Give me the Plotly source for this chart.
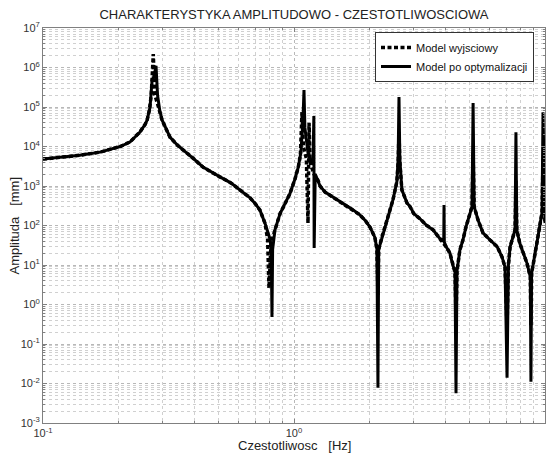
import plotly.graph_objects as go

# ---- data ----
# Model po optymalizacji (solid)
freq_opt = [0.100, 0.120, 0.140, 0.169, 0.185, 0.203, 0.222, 0.243, 0.255, 0.260, 0.267, 0.272,
            0.277, 0.282, 0.286, 0.292, 0.298, 0.310, 0.321, 0.345, 0.375, 0.400, 0.434, 0.470,
            0.507, 0.560, 0.610, 0.668, 0.700, 0.732, 0.766, 0.788, 0.805, 0.812,
            0.817, 0.822, 0.840, 0.880, 0.920, 0.964, 1.009, 1.040, 1.065, 1.085, 1.096, 1.105, 1.140,
            1.190, 1.200, 1.203, 1.215, 1.246, 1.270, 1.330, 1.430, 1.570, 1.700, 1.830, 1.930,
            2.010, 2.100, 2.140, 2.160, 2.175, 2.240, 2.350, 2.480, 2.570, 2.600, 2.620, 2.640,
            2.690, 2.820, 2.900, 3.000, 3.170, 3.380, 3.580, 3.820, 3.950, 3.960, 3.970, 4.050,
            4.180, 4.260, 4.380, 4.420, 4.460, 4.580, 4.710, 4.850, 5.020, 5.120, 5.170, 5.220,
            5.410, 5.660, 6.040, 6.450, 6.740, 6.930, 7.060, 7.150, 7.260, 7.460, 7.600, 7.660,
            7.720, 7.930, 8.170, 8.480, 8.740, 8.790, 8.840, 9.100, 9.370, 9.600, 9.730, 9.820,
            9.920, 10.00]
amp_opt = [4.8e3, 5.4e3, 6.0e3, 7.2e3, 8.3e3, 1.0e4, 1.3e4, 2.3e4, 3.6e4, 4.7e4, 1.0e5, 4.8e5,
           6.0e5, 1.1e6, 2.0e5, 8.0e4, 4.7e4, 2.7e4, 1.7e4, 1.05e4, 6.9e3, 4.8e3, 3.0e3, 2.2e3,
           1.7e3, 1.2e3, 800, 500, 360, 245, 115, 65, 43, 20,
           0.48, 25, 78, 200, 350, 650, 1.5e3, 3.0e3, 7.0e3, 4.0e4, 2.7e5, 3.0e4, 6.0e3,
           3.5e3, 5.9e4, 27, 2.0e3, 1.4e3, 1.0e3, 700, 520, 370, 260, 186, 130,
           90, 50, 25, 0.0078, 25, 51, 138, 450, 1.3e3, 5.0e3, 1.8e5, 5.0e3,
           800, 370, 300, 200, 150, 100, 78, 46, 40, 330, 38, 28,
           20, 12, 6.6, 0.0057, 7, 24, 43, 95, 210, 300, 1.26e5, 300,
           138, 65, 43, 29, 16, 8.9, 0.014, 10, 29, 51, 78, 2.3e4,
           78, 36, 20, 11, 5, 0.011, 6, 20, 51, 130, 210, 7.4e4,
           300, 115]

# Model wyjsciowy (dashed)
freq_org = [0.100, 0.120, 0.140, 0.169, 0.185, 0.203, 0.222, 0.243, 0.255, 0.260, 0.265, 0.270,
            0.275, 0.279, 0.286, 0.292, 0.298, 0.310, 0.321, 0.345, 0.375, 0.400, 0.434, 0.470,
            0.507, 0.560, 0.610, 0.668, 0.700, 0.732, 0.766, 0.785,
            0.795, 0.810, 0.840, 0.880, 0.920, 0.964, 1.009, 1.040, 1.060, 1.076, 1.090, 1.120, 1.137,
            1.148, 1.160, 1.200, 1.246, 1.270, 1.330, 1.430, 1.570, 1.700, 1.830, 1.930, 2.010,
            2.100, 2.140, 2.160, 2.175, 2.240, 2.350, 2.480, 2.570, 2.600, 2.620, 2.640, 2.690,
            2.820, 2.900, 3.000, 3.170, 3.380, 3.580, 3.820, 4.050, 4.180, 4.260, 4.380, 4.420,
            4.460, 4.580, 4.710, 4.850, 5.020, 5.120, 5.170, 5.220, 5.410, 5.660, 6.040, 6.450,
            6.740, 6.930, 7.060, 7.150, 7.260, 7.460, 7.600, 7.660, 7.720, 7.930, 8.170, 8.480,
            8.740, 8.790, 8.840, 9.100, 9.370, 9.600, 9.730, 9.820, 9.920, 10.00]
amp_org = [4.8e3, 5.4e3, 6.0e3, 7.2e3, 8.3e3, 1.0e4, 1.3e4, 2.3e4, 3.6e4, 4.7e4, 8.0e4, 2.0e5,
           2.2e6, 2.0e5, 1.2e5, 8.0e4, 4.7e4, 2.7e4, 1.7e4, 1.05e4, 6.9e3, 4.8e3, 3.0e3, 2.2e3,
           1.7e3, 1.2e3, 800, 500, 360, 245, 115, 45,
           2.6, 35, 78, 200, 350, 650, 1.5e3, 3.0e3, 6.0e3, 7.4e4, 1.0e4, 5.0e3, 115,
           4.0e4, 4.0e3, 2.0e3, 1.4e3, 1.0e3, 700, 520, 370, 260, 186, 130, 90,
           50, 25, 1.7, 25, 51, 138, 450, 1.3e3, 4.0e3, 2.3e4, 4.0e3, 800,
           370, 300, 200, 150, 100, 78, 46, 28, 20, 12, 6.6, 0.41,
           7, 24, 43, 95, 210, 300, 6.9e3, 300, 138, 65, 43, 29,
           16, 8.9, 0.27, 10, 29, 51, 78, 1.4e3, 78, 36, 20, 11,
           5, 0.30, 6, 20, 51, 130, 210, 4.6e3, 300, 115]

names = ["Model wyjsciowy", "Model po optymalizacji"]

x_ticks = [0.1, 1, 10]
x_ticktext = ["10<sup>-1</sup>", "10<sup>0</sup>", "10<sup>1</sup>"]
y_exps = [-3, -2, -1, 0, 1, 2, 3, 4, 5, 6, 7]
y_ticks = [10.0 ** e for e in y_exps]
y_ticktext = ["10<sup>%d</sup>" % e for e in y_exps]

x_minor = [m * 10.0 ** e for e in range(-1, 1) for m in range(2, 10)]
y_minor = [m * 10.0 ** e for e in range(-3, 7) for m in range(2, 10)]

fig = go.Figure()
fig.add_trace(go.Scatter(x=freq_org, y=amp_org, mode="lines", name=names[0],
                         line=dict(color="black", width=3.5, dash="4px,2.5px")))
fig.add_trace(go.Scatter(x=freq_opt, y=amp_opt, mode="lines", name=names[1],
                         line=dict(color="black", width=3)))

W, H = 552, 453
L, R, T, B = 43, 7, 28, 30
pw, ph = W - L - R, H - T - B

grid_major = "#b8b8b8"
grid_minor = "#d0d0d0"
axis_col = "#808080"
font_fam = "Liberation Sans, Arial, sans-serif"

fig.update_layout(
    width=W, height=H,
    margin=dict(l=L, r=R, t=T, b=B, autoexpand=False),
    paper_bgcolor="white", plot_bgcolor="white",
    template="none",
    font=dict(family=font_fam, size=11, color="#333"),
    title=dict(text="CHARAKTERYSTYKA AMPLITUDOWO - CZESTOTLIWOSCIOWA",
               x=0.5, xref="paper", xanchor="center",
               y=1 - 14 / H, yref="container", yanchor="middle",
               font=dict(size=13, color="#222", family=font_fam)),
    showlegend=True,
    legend=dict(x=(375 - L) / pw, y=(H - B - 32) / ph, xanchor="left", yanchor="top",
                bgcolor="white", bordercolor="#333", borderwidth=1,
                font=dict(size=11, color="#111"), itemwidth=30,
                tracegroupgap=0),
    xaxis=dict(type="log", range=[-1, 1], tickmode="array", tickvals=x_ticks, ticktext=x_ticktext,
               showgrid=True, gridcolor=grid_major, griddash="dot", gridwidth=1,
               ticks="inside", ticklen=4, tickcolor=axis_col,
               showline=True, linecolor=axis_col, linewidth=1, mirror="ticks",
               zeroline=False, automargin=False,
               tickfont=dict(size=11, color="#333"),
               minor=dict(tickmode="array", tickvals=x_minor, ticks="inside", ticklen=2,
                          tickcolor=axis_col, showgrid=True, gridcolor=grid_minor,
                          griddash="dot", gridwidth=1)),
    yaxis=dict(type="log", range=[-3, 7], tickmode="array", tickvals=y_ticks, ticktext=y_ticktext,
               showgrid=True, gridcolor=grid_major, griddash="dot", gridwidth=1,
               ticks="inside", ticklen=4, tickcolor=axis_col,
               showline=True, linecolor=axis_col, linewidth=1, mirror="ticks",
               zeroline=False, automargin=False,
               tickfont=dict(size=11, color="#333"),
               minor=dict(tickmode="array", tickvals=y_minor, ticks="inside", ticklen=2,
                          tickcolor=axis_col, showgrid=True, gridcolor=grid_minor,
                          griddash="dot", gridwidth=1)),
    annotations=[
        dict(text="Czestotliwosc   [Hz]", xref="paper", yref="paper",
             x=0.5, y=-(445 - (H - B)) / ph, xanchor="center", yanchor="middle",
             showarrow=False, font=dict(size=13, color="#222")),
        dict(text="Amplituda   [mm]", xref="paper", yref="paper",
             x=-(L - 14) / pw, y=0.5, xanchor="center", yanchor="middle", textangle=-90,
             showarrow=False, font=dict(size=13, color="#222")),
    ],
)

fig.write_html("out.html")
